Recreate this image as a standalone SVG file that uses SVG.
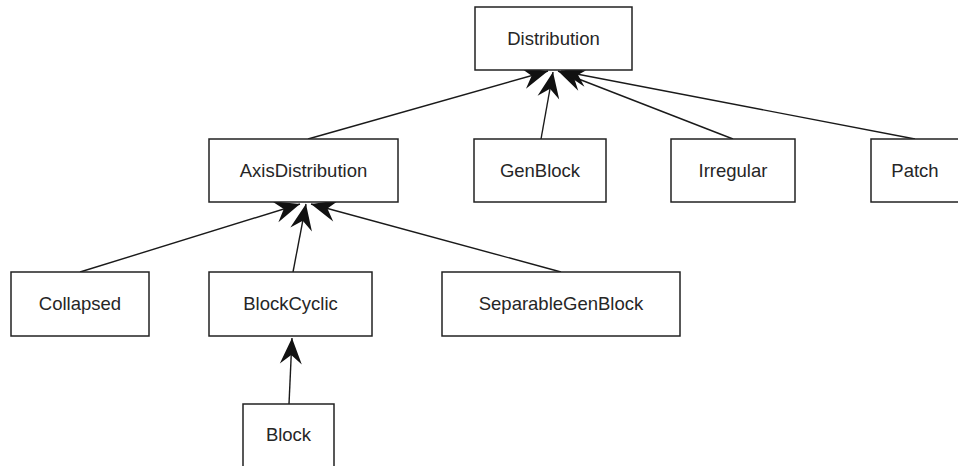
<svg xmlns="http://www.w3.org/2000/svg" width="958" height="466" viewBox="0 0 958 466">
  <style>
    .box { fill: #ffffff; stroke: #222222; stroke-width: 1.5; }
    .label { font-family: "Liberation Sans", Arial, sans-serif; font-size: 18.5px; fill: #262626; text-anchor: middle; }
    .edge { stroke: #1a1a1a; stroke-width: 1.4; fill: none; marker-end: url(#head); }
  </style>
  <defs>
    <!-- barbed inheritance arrowhead -->
    <marker id="head" markerUnits="userSpaceOnUse" markerWidth="30" markerHeight="28" viewBox="-28 -14 30 28" refX="0" refY="0" orient="auto">
      <path d="M0,0 L-26,-11 L-17,0 L-26,11 Z" fill="#111111"/>
    </marker>
  </defs>
  <rect width="958" height="466" fill="#ffffff"/>

  <g id="connectors">
    <line class="edge" x1="308" y1="139" x2="548" y2="71"/>
    <line class="edge" x1="541" y1="139" x2="553" y2="72"/>
    <line class="edge" x1="733" y1="139" x2="558" y2="71"/>
    <line class="edge" x1="915" y1="139" x2="561" y2="71"/>
    <line class="edge" x1="80" y1="272" x2="300" y2="204"/>
    <line class="edge" x1="293" y1="272" x2="306" y2="204"/>
    <line class="edge" x1="561" y1="272" x2="311" y2="204"/>
    <line class="edge" x1="289" y1="404" x2="292" y2="338"/>
  </g>

  <g id="Distribution">
    <rect class="box" x="475" y="7" width="157" height="63"/>
    <text class="label" x="553.5" y="44.5">Distribution</text>
  </g>
  <g id="AxisDistribution">
    <rect class="box" x="209" y="139" width="189" height="63"/>
    <text class="label" x="303.5" y="176.5">AxisDistribution</text>
  </g>
  <g id="GenBlock">
    <rect class="box" x="474" y="139" width="132" height="63"/>
    <text class="label" x="540" y="176.5">GenBlock</text>
  </g>
  <g id="Irregular">
    <rect class="box" x="671" y="139" width="124" height="63"/>
    <text class="label" x="733" y="176.5">Irregular</text>
  </g>
  <g id="Patch">
    <rect class="box" x="871" y="139" width="92" height="63"/>
    <text class="label" x="915" y="176.5">Patch</text>
  </g>
  <g id="Collapsed">
    <rect class="box" x="11" y="272" width="138" height="64"/>
    <text class="label" x="80" y="310">Collapsed</text>
  </g>
  <g id="BlockCyclic">
    <rect class="box" x="209" y="272" width="163" height="64"/>
    <text class="label" x="290.5" y="310">BlockCyclic</text>
  </g>
  <g id="SeparableGenBlock">
    <rect class="box" x="442" y="272" width="238" height="64"/>
    <text class="label" x="561" y="310">SeparableGenBlock</text>
  </g>
  <g id="Block">
    <path class="box" d="M243,470 L243,404 L334,404 L334,470"/>
    <text class="label" x="288.5" y="441">Block</text>
  </g>
</svg>
